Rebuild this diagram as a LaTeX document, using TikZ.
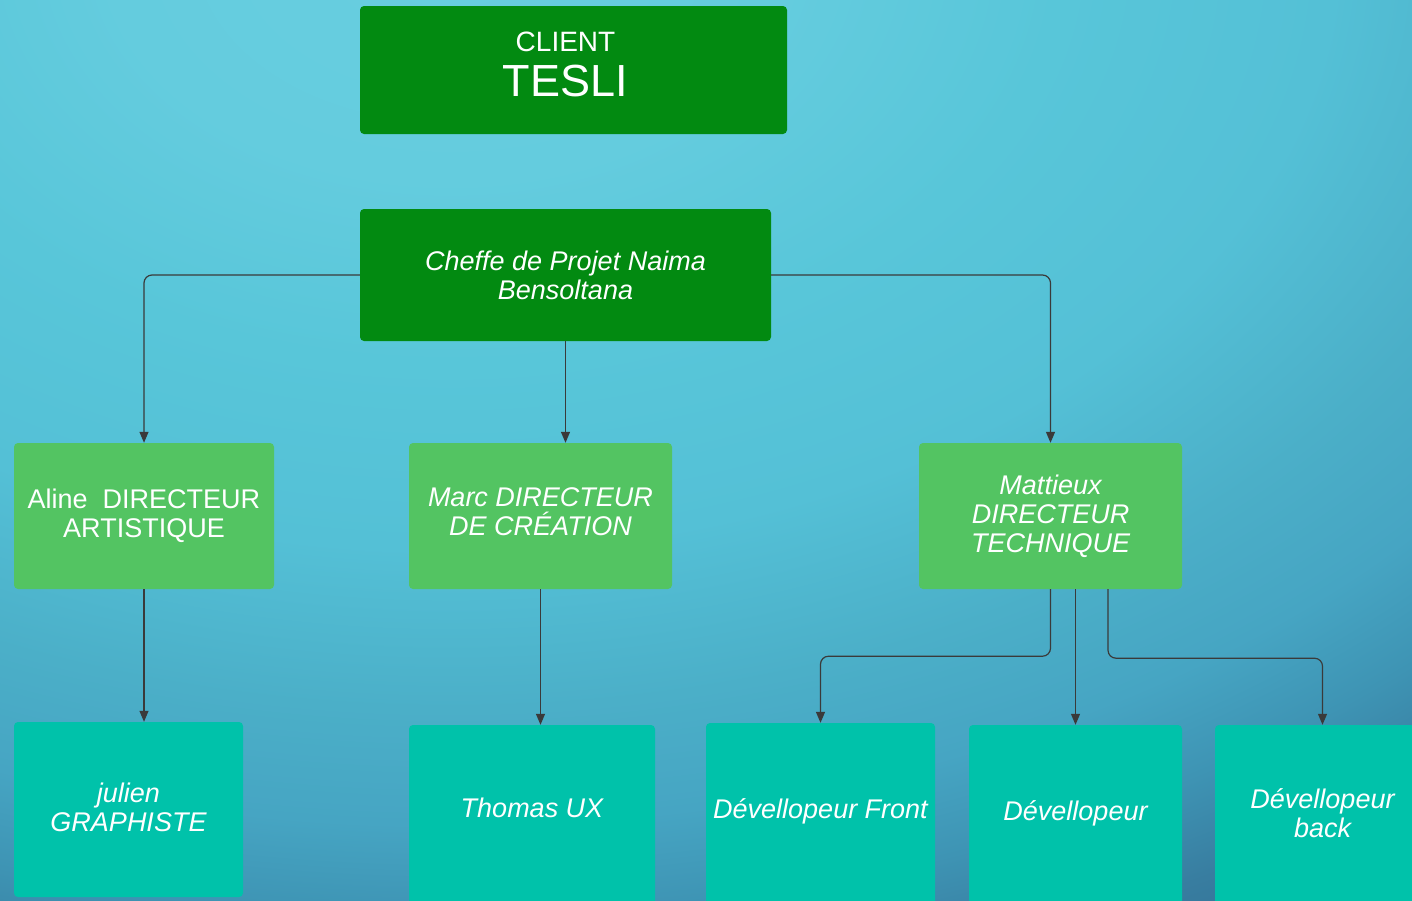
\documentclass[tikz,border=0pt]{standalone}
\usepackage{fontspec}
\setmainfont{Liberation Sans}
\usetikzlibrary{arrows.meta,calc}
\definecolor{bg0}{RGB}{104,206,224}
\definecolor{bg1}{RGB}{100,204,222}
\definecolor{bg2}{RGB}{88,198,217}
\definecolor{bg3}{RGB}{84,192,214}
\definecolor{bg4}{RGB}{75,175,200}
\definecolor{bg5}{RGB}{70,165,195}
\definecolor{bg6}{RGB}{62,148,180}
\definecolor{bg7}{RGB}{56,125,160}
\definecolor{bg8}{RGB}{50,112,148}
\definecolor{dkgreen}{RGB}{2,138,17}
\definecolor{ltgreen}{RGB}{83,196,98}
\definecolor{tealbox}{RGB}{0,194,170}
\definecolor{connclr}{RGB}{58,58,58}
\pgfdeclareradialshading{bgshade}{\pgfpoint{0bp}{0bp}}{color(0bp)=(bg0); color(5bp)=(bg1); color(9bp)=(bg2); color(13bp)=(bg3); color(16.5bp)=(bg4); color(19bp)=(bg5); color(21bp)=(bg6); color(23bp)=(bg7); color(25bp)=(bg8); color(50bp)=(bg8)}
\tikzset{
  boxbase/.style={rounded corners=4pt, inner sep=0pt, text=white, align=center,
    font=\fontsize{27}{29}\selectfont},
  dkbox/.style={boxbase, fill=dkgreen},
  ltbox/.style={boxbase, fill=ltgreen},
  tlbox/.style={boxbase, fill=tealbox},
  txt/.style={text=white, align=center, inner sep=0pt, font=\fontsize{27}{29}\selectfont\itshape},
  conn/.style={draw=connclr, line width=1.2pt, rounded corners=8pt,
    -{Triangle[length=11pt,width=9pt]}}
}
\begin{document}
\begin{tikzpicture}[x=1pt,y=-1pt]
\useasboundingbox (0,0) rectangle (1412,900);
\clip (0,0) rectangle (1412,900);
\shade[shading=bgshade] (450,-50) ellipse [x radius=1700, y radius=1150];

% top boxes
\node[dkbox, minimum width=427pt, minimum height=128pt,
  label={[txt, font=\fontsize{45}{45}\selectfont, yshift=6pt, xshift=-8pt]center:{{\fontsize{28}{30}\selectfont CLIENT}\\TESLI}}]
  (client) at (573.5,70) {};
\node[dkbox, minimum width=411pt, minimum height=132pt, font=\fontsize{27}{29}\selectfont\itshape]
  (cheffe) at (565.5,275) {Cheffe de Projet Naima\\Bensoltana};

% middle boxes
\node[ltbox, minimum width=260pt, minimum height=146pt] (aline) at (144,516) {Aline\ \ DIRECTEUR\\ARTISTIQUE};
\node[ltbox, minimum width=263pt, minimum height=146pt,
  label={[txt, yshift=4pt]center:{Marc DIRECTEUR\\DE CRÉATION}}] (marc) at (540.5,516) {};
\node[ltbox, minimum width=263pt, minimum height=146pt, font=\fontsize{27}{29}\selectfont\itshape] (matt) at (1050.5,516) {Mattieux\\DIRECTEUR\\TECHNIQUE};

% bottom boxes
\node[tlbox, minimum width=229pt, minimum height=175pt,
  label={[txt, yshift=2pt]center:{julien\\GRAPHISTE}}] (julien) at (128.5,809.5) {};
\node[tlbox, minimum width=246pt, minimum height=185pt,
  label={[txt, yshift=9.5pt]center:Thomas UX}] (thomas) at (532,817.5) {};
\node[tlbox, minimum width=229pt, minimum height=187pt,
  label={[txt, yshift=5.5pt]center:Dévellopeur Front}] (front) at (820.5,816.5) {};
\node[tlbox, minimum width=213pt, minimum height=185pt,
  label={[txt, yshift=4.5pt]center:Dévellopeur}] (dev) at (1075.5,817.5) {};
\node[tlbox, minimum width=215pt, minimum height=185pt,
  label={[txt, yshift=4.5pt]center:{Dévellopeur\\back}}] (back) at (1322.5,817.5) {};

% connectors
\draw[conn] (cheffe.west) -| (aline.north);
\draw[conn] (cheffe.east) -| (matt.north);
\draw[conn] (cheffe.south) -- (cheffe.south |- marc.north);
\draw[conn] (aline.south) -- (aline.south |- julien.north);
\draw[conn] (marc.south) -- (marc.south |- thomas.north);
\draw[conn] (matt.south) -- ++(0,67) -| (front.north);
\draw[conn] (dev.north |- matt.south) -- (dev.north);
\draw[conn] ($(matt.south)+(57.5,0)$) -- ++(0,69) -| (back.north);
\end{tikzpicture}
\end{document}
